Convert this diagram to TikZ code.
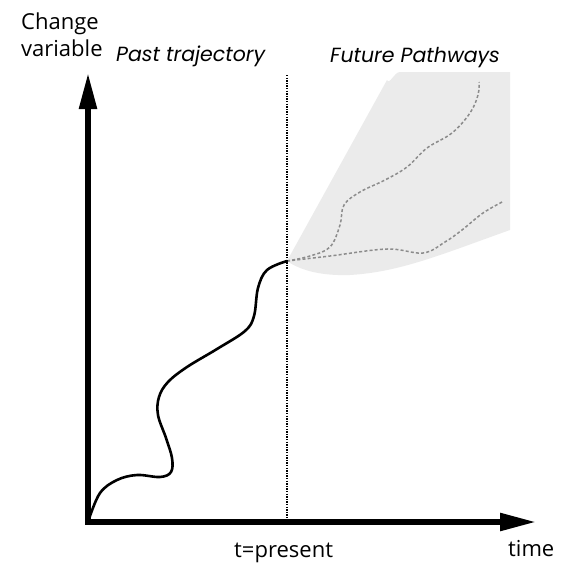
\documentclass[tikz,border=0pt]{standalone}
\usepackage{fontspec}
\setmainfont{Open Sans}
\newfontfamily\geofont{Poppins}
\usetikzlibrary{arrows.meta}
\tikzset{
  axis/.style={line width=5.5pt, -{Triangle[length=36pt,width=17pt]}},
  pastpath/.style={line width=2.6pt, line cap=round},
  futurepath/.style={draw=black!45, line width=1.5pt, dash pattern=on 3pt off 2.2pt},
  presentline/.style={line width=1.3pt, dash pattern=on 1.3pt off 1.3pt},
  label/.style={inner sep=0pt, anchor=base west, font=\fontsize{22}{26}\selectfont},
  italabel/.style={inner sep=0pt, anchor=base west, font=\geofont\itshape\fontsize{20.5}{24}\selectfont},
}
\begin{document}
\begin{tikzpicture}[x=1pt,y=-1pt]
\useasboundingbox (0,0) rectangle (562,566);
\coordinate (O) at (88,522);
\coordinate (ytip) at (88,73);
\coordinate (xtip) at (536,522);
\coordinate (P) at (287,261);
\coordinate (ptop) at (287,75);
\coordinate (pbot) at (287,518);
% grey envelope
\fill[black!8] (P) -- (387,80) to[out=-62,in=180] (400,72) -- (510,72) -- (510,230)
  .. controls (440,255) and (400,272) .. (350,275) .. controls (320,276) and (300,270) .. (P) -- cycle;
% future pathways
\draw[futurepath] (P) plot[smooth,tension=0.6] coordinates {(287,261) (310,256) (330,247) (340,225) (344,205) (360,192) (385,180) (407,167) (427,148) (452,133) (470,113) (478,95) (479,82)};
\draw[futurepath] (P) plot[smooth,tension=0.6] coordinates {(287,261) (330,256) (387,249) (423,253) (445,242) (462,230) (483,213) (504,201)};
% present line
\draw[presentline] (ptop) -- (pbot);
% past trajectory
\draw[pastpath] plot[smooth,tension=0.6] coordinates {(89,519) (100,493) (117,480) (137,475) (160,477) (171,472) (172,458) (166,438) (158,415) (159,397) (168,382) (187,367) (217,349) (245,331) (254,316) (258,288) (267,270) (287,261)};
% axes
\draw[axis] ([xshift=-2.75pt]O) -- (xtip);
\draw[axis] ([yshift=-2.75pt]O) -- (ytip);
% labels
\node[label] (ch) at (21,29) {Change};
\node[label] (var) at (21,56) {variable};
\node[italabel] (past) at (116,61) {Past trajectory};
\node[italabel] (fut) at (330,62) {Future Pathways};
\node[label] (tp) at (234,557) {t=present};
\node[label] (tm) at (508,556) {time};
\end{tikzpicture}
\end{document}
